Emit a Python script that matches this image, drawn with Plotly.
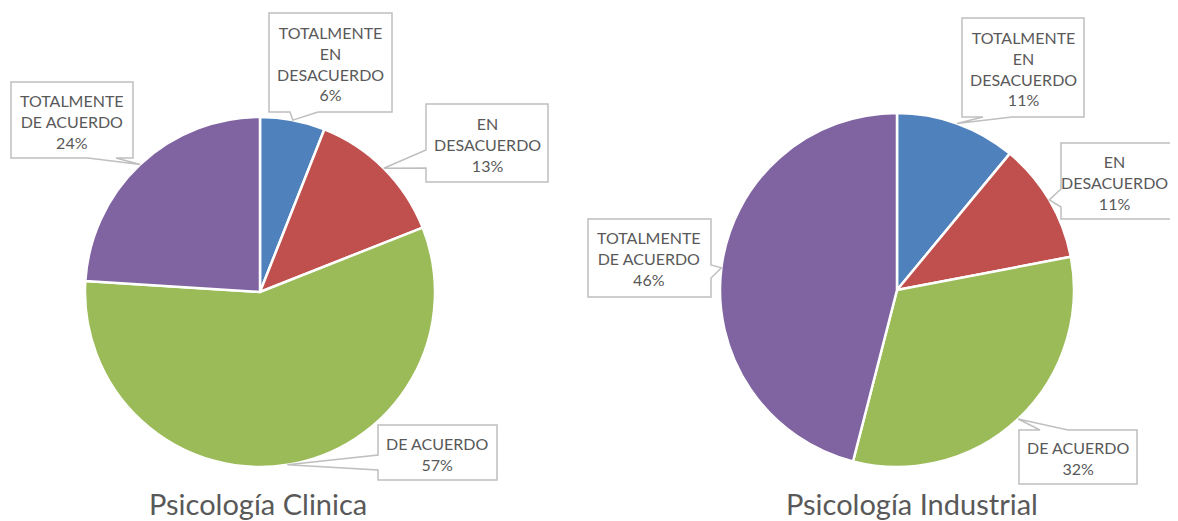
import math
import plotly.graph_objects as go

W, H = 1178, 521
OFF = 8  # page body margin in the browser
FW, FH = W - OFF, H - OFF

categories = ["TOTALMENTE EN DESACUERDO", "EN DESACUERDO", "DE ACUERDO", "TOTALMENTE DE ACUERDO"]
label_lines = [["TOTALMENTE", "EN", "DESACUERDO"], ["EN", "DESACUERDO"], ["DE ACUERDO"], ["TOTALMENTE", "DE ACUERDO"]]
clinica_values = [6, 13, 57, 24]
industrial_values = [11, 11, 32, 46]
titles = ["Psicología Clinica", "Psicología Industrial"]
colors = ["#4F81BD", "#C0504D", "#9BBB59", "#8064A2"]

# layout (pixels in the screenshot)
pies = [
    dict(cx=260, cy=292, r=175, values=clinica_values, title=titles[0], tx=258,
         boxes=[  # x0, y0, x1, y1, side, base a, base b, text center x
             (269, 13, 392, 112, "bottom", 290, 318, 330),
             (426, 104, 548, 182, "left", 150, 168, 487),
             (378, 425, 497, 480, "left", 455, 470, 437),
             (11, 82, 133, 158, "bottom", 88, 116, 72),
         ]),
    dict(cx=897, cy=290, r=177, values=industrial_values, title=titles[1], tx=912,
         boxes=[
             (962, 18, 1084, 117, "bottom", 983, 1012, 1023),
             (1061, 143, 1184, 219, "left", 189, 207, 1114),
             (1019, 430, 1137, 484, "top", 1040, 1068, 1078),
             (588, 219, 711, 297, "right", 265, 278, 649),
         ]),
]

def px(x):
    return (x - OFF) / FW

def py(y):
    return 1 - (y - OFF) / FH

fig = go.Figure()
shapes = []
annotations = []
FONT = "Lato"
GRAY = "#595959"

for p in pies:
    cx, cy, r = p["cx"], p["cy"], p["r"]
    fig.add_trace(go.Pie(
        labels=categories, values=p["values"], sort=False, direction="clockwise",
        rotation=0, textinfo="none", hoverinfo="label+percent",
        marker=dict(colors=colors, line=dict(color="white", width=2.5)),
        domain=dict(x=[px(cx - r), px(cx + r)], y=[py(cy + r), py(cy - r)]),
        showlegend=False,
    ))
    total = sum(p["values"])
    cum = 0
    for i, v in enumerate(p["values"]):
        mid = (cum + v / 2) / total * 2 * math.pi
        cum += v
        tipx = cx + r * math.sin(mid)
        tipy = cy - r * math.cos(mid)
        x0, y0, x1, y1, side, a, b, tcx = p["boxes"][i]
        if side == "bottom":
            pts = [(x0, y0), (x1, y0), (x1, y1), (b, y1), (tipx, tipy), (a, y1), (x0, y1)]
        elif side == "top":
            pts = [(x0, y0), (a, y0), (tipx, tipy), (b, y0), (x1, y0), (x1, y1), (x0, y1)]
        elif side == "left":
            pts = [(x0, y0), (x1, y0), (x1, y1), (x0, y1), (x0, b), (tipx, tipy), (x0, a)]
        else:
            pts = [(x0, y0), (x1, y0), (x1, a), (tipx, tipy), (x1, b), (x1, y1), (x0, y1)]
        path = "M " + " L ".join(f"{px(x):.5f},{py(y):.5f}" for x, y in pts) + " Z"
        shapes.append(dict(type="path", xref="paper", yref="paper", path=path,
                           fillcolor="white", line=dict(color="#BFBFBF", width=1.5)))
        pct = round(v / total * 100)
        text = "<br>".join(label_lines[i] + [f"{pct}%"])
        annotations.append(dict(x=px(tcx), y=py((y0 + y1) / 2 + 1),
                                xref="paper", yref="paper", text=text, showarrow=False,
                                xanchor="center", yanchor="middle",
                                font=dict(family=FONT, size=16, color=GRAY)))
    annotations.append(dict(x=px(p["tx"]), y=py(503), xref="paper", yref="paper",
                            text=p["title"], showarrow=False, xanchor="center", yanchor="middle",
                            font=dict(family=FONT, size=29, color=GRAY)))

fig.update_layout(width=FW, height=FH, margin=dict(l=0, r=0, t=0, b=0),
                  paper_bgcolor="white", plot_bgcolor="white",
                  shapes=shapes, annotations=annotations)
fig.write_html("out.html")
